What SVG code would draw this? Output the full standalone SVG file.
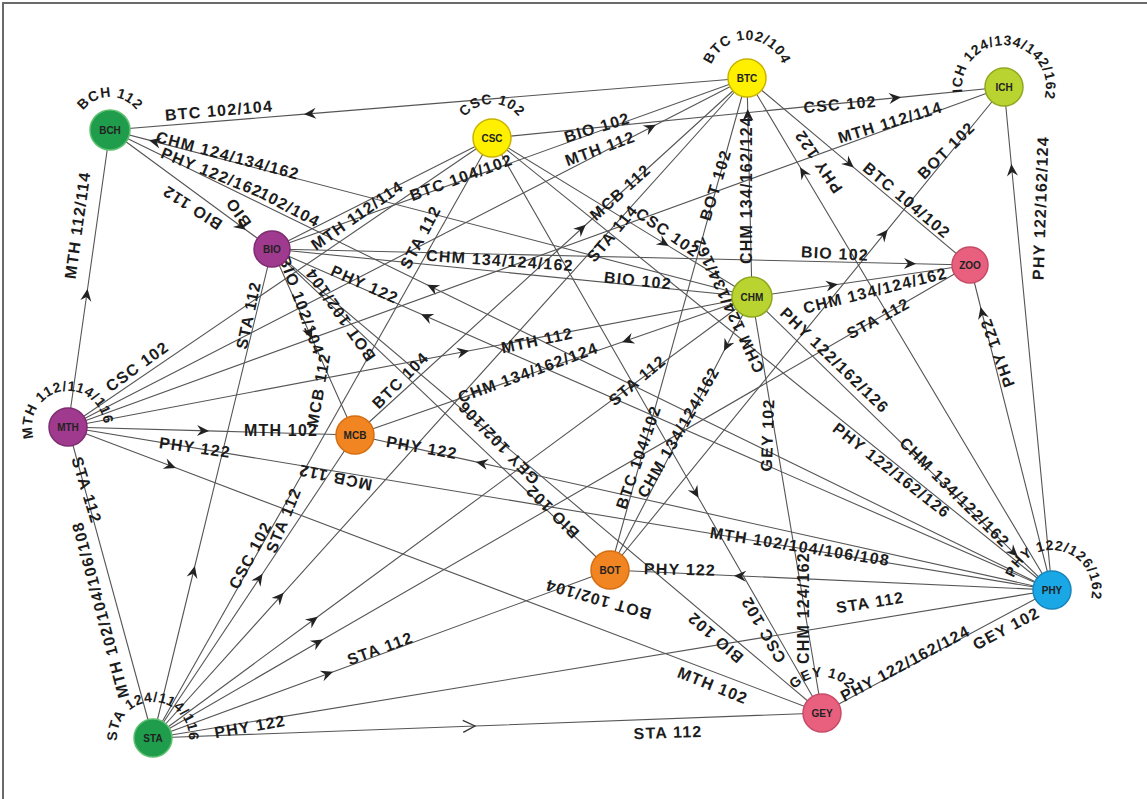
<svg xmlns="http://www.w3.org/2000/svg" width="1147" height="799" viewBox="0 0 1147 799">
<defs>
<style>
.e{stroke:#555;stroke-width:1.1;fill:none}
.a{marker-mid:url(#ar)}
.o{marker-mid:url(#op)}
.l{font-family:"Liberation Sans",Arial,sans-serif;font-weight:bold;font-size:16px;letter-spacing:1.2px;fill:#1c1c1c;text-anchor:middle}
.s{font-family:"Liberation Sans",Arial,sans-serif;font-weight:bold;font-size:14px;letter-spacing:0.8px;fill:#1c1c1c;text-anchor:middle}
.n{font-family:"Liberation Sans",Arial,sans-serif;font-weight:bold;font-size:10px;fill:#222;text-anchor:middle}
.g{fill:#1f9d4c;stroke:#5cc06e;stroke-width:1.5}
.y{fill:#fff000;stroke:#c9b300;stroke-width:1.5}
.yg{fill:#b9d431;stroke:#8fa820;stroke-width:1.5}
.p{fill:#a03a8e;stroke:#7d2c70;stroke-width:1.5}
.k{fill:#e8607e;stroke:#c84b66;stroke-width:1.5}
.or{fill:#f08522;stroke:#d66d10;stroke-width:1.5}
.b{fill:#1aa7e6;stroke:#1585bb;stroke-width:1.5}
</style>
<marker id="ar" viewBox="-13 -7 15 14" markerWidth="15" markerHeight="14" markerUnits="userSpaceOnUse" orient="auto" overflow="visible">
<path d="M1,0 L-11,-5.5 L-7,0 L-11,5.5 Z" fill="#222"/>
</marker>
<marker id="op" viewBox="-13 -7 15 14" markerWidth="15" markerHeight="14" markerUnits="userSpaceOnUse" orient="auto" overflow="visible">
<path d="M-12,-6 L0,0 L-12,6" fill="none" stroke="#333" stroke-width="1.3"/>
</marker>
<path id="cBCH" d="M79,141.3 A33,33 0 1 1 141,141.3"/>
<path id="cCSC" d="M460.1,149.6 A34,34 0 1 1 523.9,149.6"/>
<path id="cBTC" d="M711.3,91 A38,38 0 1 1 782.7,91"/>
<path id="cICH" d="M964.5,101.4 A42,42 0 1 1 1043.5,101.4"/>
<path id="cMTH" d="M34.2,439.3 A36,36 0 1 1 101.8,439.3"/>
<path id="cSTA" d="M119.2,750.3 A36,36 0 1 1 186.8,750.3"/>
<path id="cPHY" d="M1014.4,603.7 A40,40 0 1 1 1089.6,603.7"/>
<path id="cGEY" d="M788.2,725.3 A36,36 0 1 1 855.8,725.3"/>
</defs>
<rect width="1147" height="799" fill="#fff"/>
<path d="M3,799 V3 H1147" fill="none" stroke="#6a6a6a" stroke-width="2"/>
<g id="connectors">
<path class="e a" d="M747,78 L305,114.1 L110,130"/>
<path class="e a" d="M752,297 L150,140.4 L110,130"/>
<path class="e a" d="M1052,590 L428,285.3 L110,130"/>
<path class="e a" d="M110,130 L245,229.2 L272,249"/>
<path class="e a" d="M68,427 L87.4,290 L110,130"/>
<path class="e a" d="M492,138 L900,97.4 L1004,87"/>
<path class="e" d="M272,249 L747,78"/>
<path class="e" d="M272,249 L492,138"/>
<path class="e a" d="M68,427 L655,125.3 L747,78"/>
<path class="e a" d="M355,435 L585,225.5 L747,78"/>
<path class="e a" d="M153,738 L283,593.6 L747,78"/>
<path class="e a" d="M492,138 L668,245.6 L752,297"/>
<path class="e" d="M610,570 L747,78"/>
<path class="e a" d="M752,297 L747.7,110 L747,78"/>
<path class="e a" d="M1052,590 L800.6,168 L747,78"/>
<path class="e a" d="M747,78 L853,166.9 L970,265"/>
<path class="e a" d="M610,570 L887,230.4 L1004,87"/>
<path class="e a" d="M1052,590 L1011.4,165 L1004,87"/>
<path class="e" d="M68,427 L1004,87"/>
<path class="e a" d="M272,249 L915,263.7 L970,265"/>
<path class="e" d="M272,249 L752,297"/>
<path class="e a" d="M1052,590 L422,314.6 L272,249"/>
<path class="e a" d="M153,738 L194.6,567 L272,249"/>
<path class="e" d="M68,427 L492,138"/>
<path class="e a" d="M68,427 L468,351 L752,297"/>
<path class="e a" d="M68,427 L208,430.9 L355,435"/>
<path class="e" d="M68,427 L1052,590"/>
<path class="e a" d="M68,427 L175,467.6 L822,713"/>
<path class="e a" d="M1052,590 L477,462.1 L355,435"/>
<path class="e a" d="M752,297 L623,341.8 L355,435"/>
<path class="e a" d="M153,738 L317,617.3 L752,297"/>
<path class="e a" d="M153,738 L322,640.1 L970,265"/>
<path class="e a" d="M492,138 L698,497 L822,713"/>
<path class="e" d="M492,138 L1052,590"/>
<path class="e a" d="M752,297 L1017,555.8 L1052,590"/>
<path class="e a" d="M1052,590 L980.8,308 L970,265"/>
<path class="e" d="M822,713 L752,297"/>
<path class="e a" d="M752,297 L724.4,350 L610,570"/>
<path class="e a" d="M1052,590 L735,575.7 L610,570"/>
<path class="e" d="M822,713 L1052,590"/>
<path class="e" d="M153,738 L1052,590"/>
<path class="e o" d="M153,738 L475,726 L822,713"/>
<path class="e a" d="M153,738 L332,672.2 L610,570"/>
<path class="e a" d="M153,738 L262,574.5 L355,435"/>
<path class="e" d="M153,738 L492,138"/>
<path class="e" d="M68,427 L153,738"/>
<path class="e" d="M822,713 L272,249"/>
<path class="e" d="M610,570 L272,249"/>
<path class="e a" d="M272,249 L311.7,338 L355,435"/>
<path class="e a" d="M752,297 L837,284.5 L970,265"/>
</g>
<g id="labels">
<text class="l" transform="translate(219 110) rotate(-5)" y="6">BTC 102/104</text>
<text class="l" transform="translate(228 155) rotate(15)" y="6">CHM 124/134/162</text>
<text class="l" transform="translate(212 172) rotate(22)" y="6">PHY 122/162</text>
<text class="l" transform="translate(192 208) rotate(213)" y="6">BIO 112</text>
<text class="l" transform="translate(238 213) rotate(235)" y="6">BIO</text>
<text class="l" transform="translate(290 207) rotate(28)" y="6">102/104</text>
<text class="l" transform="translate(77 225) rotate(-82)" y="6">MTH 112/114</text>
<text class="l" transform="translate(357 215) rotate(-35)" y="6">MTH 112/114</text>
<text class="l" transform="translate(461 177) rotate(-20)" y="6">BTC 104/102</text>
<text class="l" transform="translate(597 127) rotate(-17)" y="6">BIO 102</text>
<text class="l" transform="translate(600 148) rotate(-20)" y="6">MTH 112</text>
<text class="l" transform="translate(620 192) rotate(-42)" y="6">MCB 112</text>
<text class="l" transform="translate(612 233) rotate(-50)" y="6">STA 114</text>
<text class="l" transform="translate(668 232) rotate(35)" y="6">CSC 102</text>
<text class="l" transform="translate(715 185) rotate(-73)" y="6">BOT 102</text>
<text class="l" transform="translate(746 190) rotate(-90)" y="6">CHM 134/162/124</text>
<text class="l" transform="translate(818 162) rotate(-124)" y="6">PHY 122</text>
<text class="l" transform="translate(907 200) rotate(40)" y="6">BTC 104/102</text>
<text class="l" transform="translate(840 104) rotate(-5)" y="6">CSC 102</text>
<text class="l" transform="translate(890 122) rotate(-17)" y="6">MTH 112/114</text>
<text class="l" transform="translate(946 150) rotate(-45)" y="6">BOT 102</text>
<text class="l" transform="translate(1040 208) rotate(-88)" y="6">PHY 122/162/124</text>
<text class="l" transform="translate(835 253) rotate(3)" y="6">BIO 102</text>
<text class="l" transform="translate(500 260) rotate(4)" y="6">CHM 134/124/162</text>
<text class="l" transform="translate(638 280) rotate(6)" y="6">BIO 102</text>
<text class="l" transform="translate(365 284) rotate(24)" y="6">PHY 122</text>
<text class="l" transform="translate(248 315) rotate(-78)" y="6">STA 112</text>
<text class="l" transform="translate(137 366) rotate(-36)" y="6">CSC 102</text>
<text class="l" transform="translate(281 430)" y="6">MTH 102</text>
<text class="l" transform="translate(195 447) rotate(8)" y="6">PHY 122</text>
<text class="l" transform="translate(335 478) rotate(192)" y="6">MCB 112</text>
<text class="l" transform="translate(302 305) rotate(70)" y="6">BIO 102/104</text>
<text class="l" transform="translate(318 390) rotate(-80)" y="6">MCB 112</text>
<text class="l" transform="translate(340 315) rotate(235)" y="6">BOT 102/104</text>
<text class="l" transform="translate(400 380) rotate(-45)" y="6">BTC 104</text>
<text class="l" transform="translate(537 340) rotate(-12)" y="6">MTH 112</text>
<text class="l" transform="translate(528 372) rotate(-20)" y="6">CHM 134/162/124</text>
<text class="l" transform="translate(422 447) rotate(10)" y="6">PHY 122</text>
<text class="l" transform="translate(498 443) rotate(226)" y="6">GEY 102/106</text>
<text class="l" transform="translate(552 512) rotate(225)" y="6">BIO 102</text>
<text class="l" transform="translate(420 237) rotate(-62)" y="6">STA 112</text>
<text class="l" transform="translate(637 380) rotate(-40)" y="6">STA 112</text>
<text class="l" transform="translate(728 305) rotate(245)" y="6">CHM 124/134/162</text>
<text class="l" transform="translate(678 432) rotate(-60)" y="6">CHM 134/124/162</text>
<text class="l" transform="translate(638 457) rotate(-71)" y="6">BTC 104/102</text>
<text class="l" transform="translate(767 435) rotate(-88)" y="6">GEY 102</text>
<text class="l" transform="translate(835 360) rotate(44)" y="6">PHY 122/162/126</text>
<text class="l" transform="translate(875 290) rotate(-14)" y="6">CHM 134/124/162</text>
<text class="l" transform="translate(878 318) rotate(-28)" y="6">STA 112</text>
<text class="l" transform="translate(997 353) rotate(-110)" y="6">PHY 122</text>
<text class="l" transform="translate(892 470) rotate(38)" y="6">PHY 122/162/126</text>
<text class="l" transform="translate(955 492) rotate(45)" y="6">CHM 134/122/162</text>
<text class="l" transform="translate(800 546) rotate(9)" y="6">MTH 102/104/106/108</text>
<text class="l" transform="translate(680 569) rotate(1)" y="6">PHY 122</text>
<text class="l" transform="translate(598 600) rotate(196)" y="6">BOT 102/104</text>
<text class="l" transform="translate(715 638) rotate(221)" y="6">BIO 102</text>
<text class="l" transform="translate(763 630) rotate(240)" y="6">CSC 102</text>
<text class="l" transform="translate(713 685) rotate(22)" y="6">MTH 102</text>
<text class="l" transform="translate(803 608) rotate(-90)" y="6">CHM 124/162</text>
<text class="l" transform="translate(870 602) rotate(-9)" y="6">STA 112</text>
<text class="l" transform="translate(905 663) rotate(-28)" y="6">PHY 122/162/124</text>
<text class="l" transform="translate(1006 628) rotate(-28)" y="6">GEY 102</text>
<text class="l" transform="translate(668 732) rotate(-2)" y="6">STA 112</text>
<text class="l" transform="translate(380 648) rotate(-20)" y="6">STA 112</text>
<text class="l" transform="translate(250 726) rotate(-10)" y="6">PHY 122</text>
<text class="l" transform="translate(250 555) rotate(-62)" y="6">CSC 102</text>
<text class="l" transform="translate(283 520) rotate(-68)" y="6">STA 112</text>
<text class="l" transform="translate(100 610) rotate(-105)" y="6">MTH 102/104/106/108</text>
<text class="l" transform="translate(87 490) rotate(73)" y="6">STA 112</text>
<text class="s"><textPath href="#cBCH" startOffset="50%">BCH 112</textPath></text>
<text class="s"><textPath href="#cCSC" startOffset="50%">CSC 102</textPath></text>
<text class="s"><textPath href="#cBTC" startOffset="50%">BTC 102/104</textPath></text>
<text class="s"><textPath href="#cICH" startOffset="52%">ICH 124/134/142/162</textPath></text>
<text class="s"><textPath href="#cMTH" startOffset="45%">MTH 112/114/116</textPath></text>
<text class="s"><textPath href="#cSTA" startOffset="50%">STA 124/114/116</textPath></text>
<text class="s"><textPath href="#cPHY" startOffset="57%">PHY 122/126/162</textPath></text>
<text class="s"><textPath href="#cGEY" startOffset="50%">GEY 102</textPath></text>
</g>
<g id="BCH"><circle class="g" cx="110" cy="130" r="20"/><text class="n" x="110" y="134">BCH</text></g>
<g id="CSC"><circle class="y" cx="492" cy="138" r="19"/><text class="n" x="492" y="142">CSC</text></g>
<g id="BTC"><circle class="y" cx="747" cy="78" r="19"/><text class="n" x="747" y="82">BTC</text></g>
<g id="ICH"><circle class="yg" cx="1004" cy="87" r="19"/><text class="n" x="1004" y="91">ICH</text></g>
<g id="BIO"><circle class="p" cx="272" cy="249" r="18"/><text class="n" x="272" y="253">BIO</text></g>
<g id="ZOO"><circle class="k" cx="970" cy="265" r="18"/><text class="n" x="970" y="269">ZOO</text></g>
<g id="CHM"><circle class="yg" cx="752" cy="297" r="20"/><text class="n" x="752" y="301">CHM</text></g>
<g id="MTH"><circle class="p" cx="68" cy="427" r="19"/><text class="n" x="68" y="431">MTH</text></g>
<g id="MCB"><circle class="or" cx="355" cy="435" r="19"/><text class="n" x="355" y="439">MCB</text></g>
<g id="BOT"><circle class="or" cx="610" cy="570" r="19"/><text class="n" x="610" y="574">BOT</text></g>
<g id="PHY"><circle class="b" cx="1052" cy="590" r="19"/><text class="n" x="1052" y="594">PHY</text></g>
<g id="GEY"><circle class="k" cx="822" cy="713" r="19"/><text class="n" x="822" y="717">GEY</text></g>
<g id="STA"><circle class="g" cx="153" cy="738" r="19"/><text class="n" x="153" y="742">STA</text></g>
</svg>
